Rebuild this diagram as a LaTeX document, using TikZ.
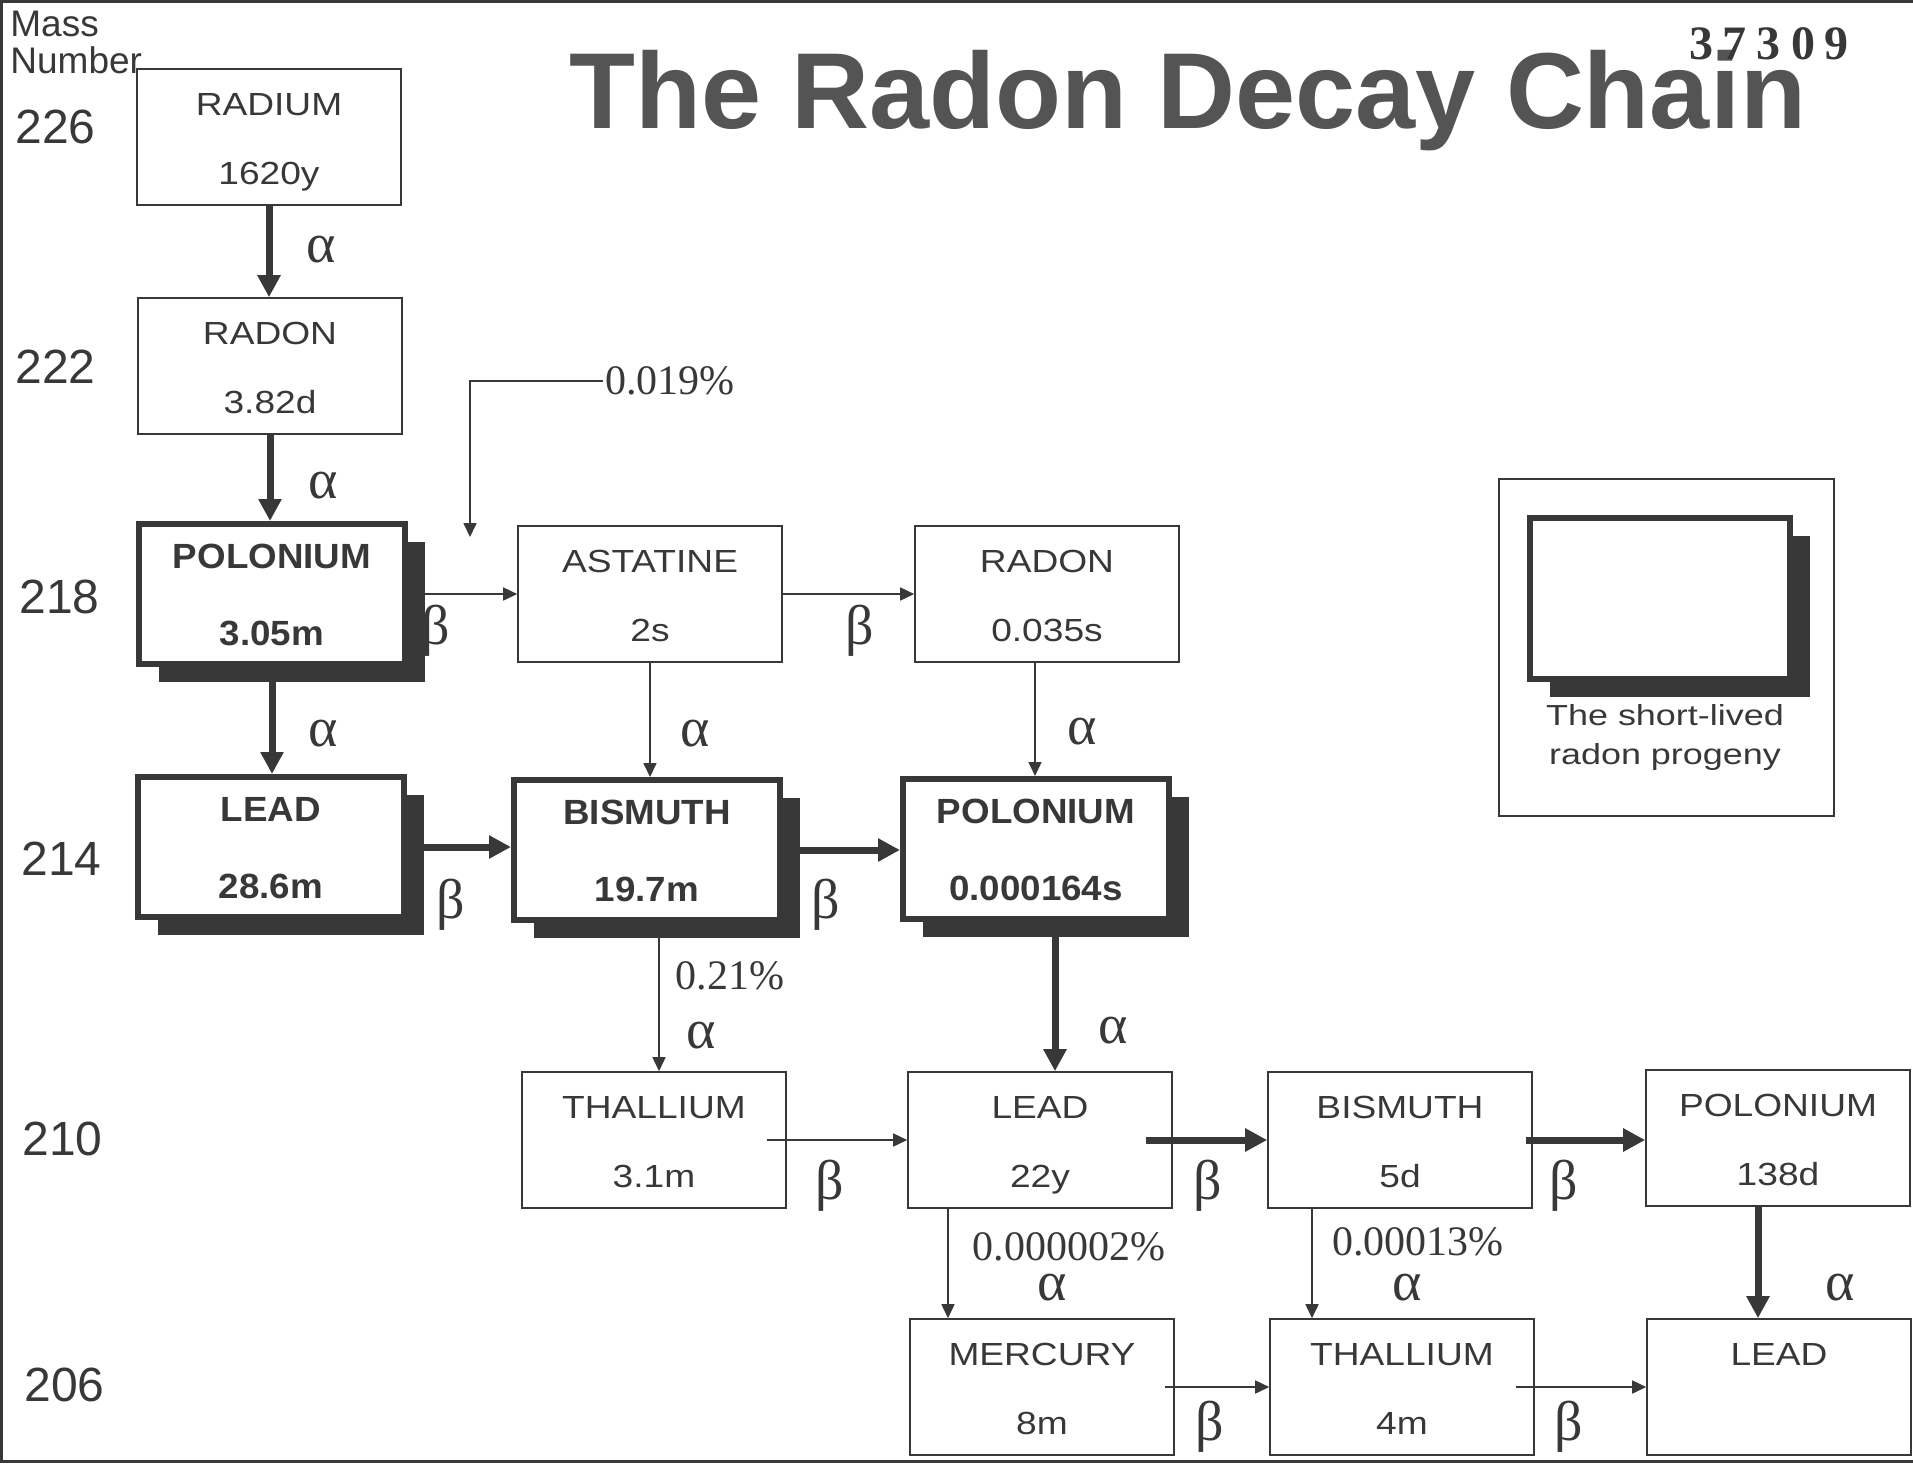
\documentclass[tikz,border=0pt]{standalone}
\usepackage{fontspec}
\setmainfont{Liberation Sans}
\newfontfamily\serifgr{Liberation Serif}
\newfontfamily\isofont[FakeStretch=1.16]{Liberation Sans}
\newfontfamily\progfont[FakeStretch=1.05]{Liberation Sans}
\newfontfamily\keyfont[FakeStretch=1.24]{Liberation Sans}
\usetikzlibrary{arrows.meta,shadows}
\definecolor{ink}{gray}{0.22}
\definecolor{titlegray}{gray}{0.33}
\newcommand{\nuc}[2]{\rule{0pt}{17pt}#1\\#2\rule[-4pt]{0pt}{4pt}}
\tikzstyle{iso}=[draw=ink, line width=0.8pt, minimum width=132pt, minimum height=68pt, inner sep=0pt, align=center, text=ink, font=\isofont\fontsize{16}{34.5}\selectfont]
\tikzstyle{progeny}=[iso, line width=3pt, fill=white, minimum width=133pt, minimum height=70pt, font=\progfont\bfseries\fontsize{17.5}{38.5}\selectfont, drop shadow={shadow xshift=10pt, shadow yshift=-9pt, fill=ink, opacity=1}]
\tikzstyle{minor}=[draw=ink, line width=0.8pt, -{Triangle[length=7pt,width=6.5pt]}]
\tikzstyle{major}=[draw=ink, line width=3.5pt, -{Triangle[length=11pt,width=11pt]}]
\tikzstyle{decay}=[font=\serifgr\fontsize{28}{30}\selectfont, text=ink, inner sep=0pt]
\tikzstyle{branch}=[font=\serifgr\fontsize{21}{24}\selectfont, text=ink, inner sep=1pt]
\tikzstyle{massno}=[font=\fontsize{24}{28}\selectfont, text=ink, inner sep=0pt, anchor=west]

\begin{document}
\begin{tikzpicture}[x=0.5pt, y=-0.5pt]
	\useasboundingbox (0,0) rectangle (1913,1463);
	\draw[ink, line width=1.5pt] (1913,1.5) -- (1.5,1.5) -- (1.5,1461) -- (1913,1461);
	
	% title and mass numbers
	\node[font=\bfseries\fontsize{54}{60}\selectfont, text=titlegray, anchor=base] (title) at (1188,128) {The Radon Decay Chain};
	\node[font=\serifgr\bfseries\fontsize{24}{26}\selectfont, text=ink] (stamp) at (1769,44) {3\hspace{5pt}7\hspace{5pt}3\hspace{5pt}0\hspace{5pt}9};
	\node[font=\fontsize{18.5}{18.5}\selectfont, text=ink, align=left, anchor=north west, inner sep=0pt] (massnum) at (10,11) {Mass\\Number};
	\foreach \m/\x/\y in {226/15/127, 222/15/367, 218/19/597, 214/21/859, 210/22/1139, 206/24/1385}
		\node[massno] (m\m) at (\x,\y) {\m};
	
	% nuclides
	\node[iso] (ra226) at (269,137) {\nuc{RADIUM}{1620y}};
	\node[iso] (rn222) at (270,366) {\nuc{RADON}{3.82d}};
	\node[progeny] (po218) at (272,594) {\nuc{POLONIUM}{3.05m}};
	\node[iso] (at218) at (650,594) {\nuc{ASTATINE}{2s}};
	\node[iso] (rn218) at (1047,594) {\nuc{RADON}{0.035s}};
	\node[progeny] (pb214) at (271,847) {\nuc{LEAD}{28.6m}};
	\node[progeny] (bi214) at (647,850) {\nuc{BISMUTH}{19.7m}};
	\node[progeny] (po214) at (1036,849) {\nuc{POLONIUM}{0.000164s}};
	\node[iso] (tl210) at (654,1140) {\nuc{THALLIUM}{3.1m}};
	\node[iso] (pb210) at (1040,1140) {\nuc{LEAD}{22y}};
	\node[iso] (bi210) at (1400,1140) {\nuc{BISMUTH}{5d}};
	\node[iso] (po210) at (1778,1138) {\nuc{POLONIUM}{138d}};
	\node[iso] (hg206) at (1042,1387) {\nuc{MERCURY}{8m}};
	\node[iso] (tl206) at (1402,1387) {\nuc{THALLIUM}{4m}};
	\node[iso] (pb206) at (1779,1387) {\nuc{LEAD}{}};
	
	% legend
	\node[draw=ink, line width=0.8pt, minimum width=167.5pt, minimum height=168.5pt, inner sep=0pt] (legend) at (1666.5,647.5) {};
	\node[progeny, minimum width=130pt, minimum height=80.5pt] (key) at (1660,598) {};
	\node[font=\keyfont\fontsize{14.5}{19.5}\selectfont, text=ink, align=center, inner sep=0pt, anchor=north] (keytxt) at (1665,704) {The short-lived\\radon progeny};
	
	% alpha decays
	\draw[major] (ra226.south) -- (ra226.south |- rn222.north);
	\draw[major] (rn222.south) -- (rn222.south |- po218.north);
	\draw[major] (po218.south) -- (po218.south |- pb214.north);
	\draw[minor] (at218.south) -- (at218.south |- bi214.north);
	\draw[minor] ([xshift=-6pt]rn218.south) -- ([xshift=-6pt]rn218.south |- po214.north);
	\draw[minor] ([xshift=6pt]bi214.south) -- ([xshift=6pt]bi214.south |- tl210.north);
	\draw[major] ([xshift=9.5pt]po214.south) -- ([xshift=9.5pt]po214.south |- pb210.north);
	\draw[minor] ([xshift=-46pt]pb210.south) -- ([xshift=-46pt]pb210.south |- hg206.north);
	\draw[minor] ([xshift=-44pt]bi210.south) -- ([xshift=-44pt]bi210.south |- tl206.north);
	\draw[major] ([xshift=-10pt]po210.south) -- ([xshift=-10pt]po210.south |- pb206.north);
	
	% beta decays
	\draw[minor] (po218.east) -- (po218.east -| at218.west);
	\draw[minor] (at218.east) -- (at218.east -| rn218.west);
	\draw[major] (pb214.east) -- (pb214.east -| bi214.west);
	\draw[major] (bi214.east) -- (bi214.east -| po214.west);
	\draw[minor] ([xshift=-10pt]tl210.east) -- (tl210.east -| pb210.west);
	\draw[major] ([xshift=-13.5pt]pb210.east) -- (pb210.east -| bi210.west);
	\draw[major] ([xshift=-3.5pt]bi210.east) -- (bi210.east -| po210.west);
	\draw[minor] ([xshift=-5pt]hg206.east) -- (hg206.east -| tl206.west);
	\draw[minor] ([xshift=-9.5pt]tl206.east) -- (tl206.east -| pb206.west);
	
	% branch at polonium 218
	\node[branch] (p019) at (670,381) {0.019\%};
	\coordinate (c019) at (470,537);
	\draw[minor] (p019.west) -| (c019);
	\node[branch] (p021) at (730,976) {0.21\%};
	\node[branch] (p000002) at (1069,1247) {0.000002\%};
	\node[branch] (p00013) at (1418,1242) {0.00013\%};
	
	% decay labels
	\node[decay] (a1) at (321,250) {α};
	\node[decay] (a2) at (323,486) {α};
	\node[decay] (a3) at (323,734) {α};
	\node[decay] (a4) at (695,734) {α};
	\node[decay] (a5) at (1082,732) {α};
	\node[decay] (a6) at (701,1036) {α};
	\node[decay] (a7) at (1113,1031) {α};
	\node[decay] (a8) at (1052,1288) {α};
	\node[decay] (a9) at (1407,1288) {α};
	\node[decay] (a10) at (1840,1288) {α};
	\node[decay] (b1) at (436,631) {β};
	\node[decay] (b2) at (860,631) {β};
	\node[decay] (b3) at (451,905) {β};
	\node[decay] (b4) at (826,905) {β};
	\node[decay] (b5) at (830,1186) {β};
	\node[decay] (b6) at (1208,1186) {β};
	\node[decay] (b7) at (1564,1186) {β};
	\node[decay] (b8) at (1210,1427) {β};
	\node[decay] (b9) at (1569,1427) {β};
\end{tikzpicture}
\end{document}
